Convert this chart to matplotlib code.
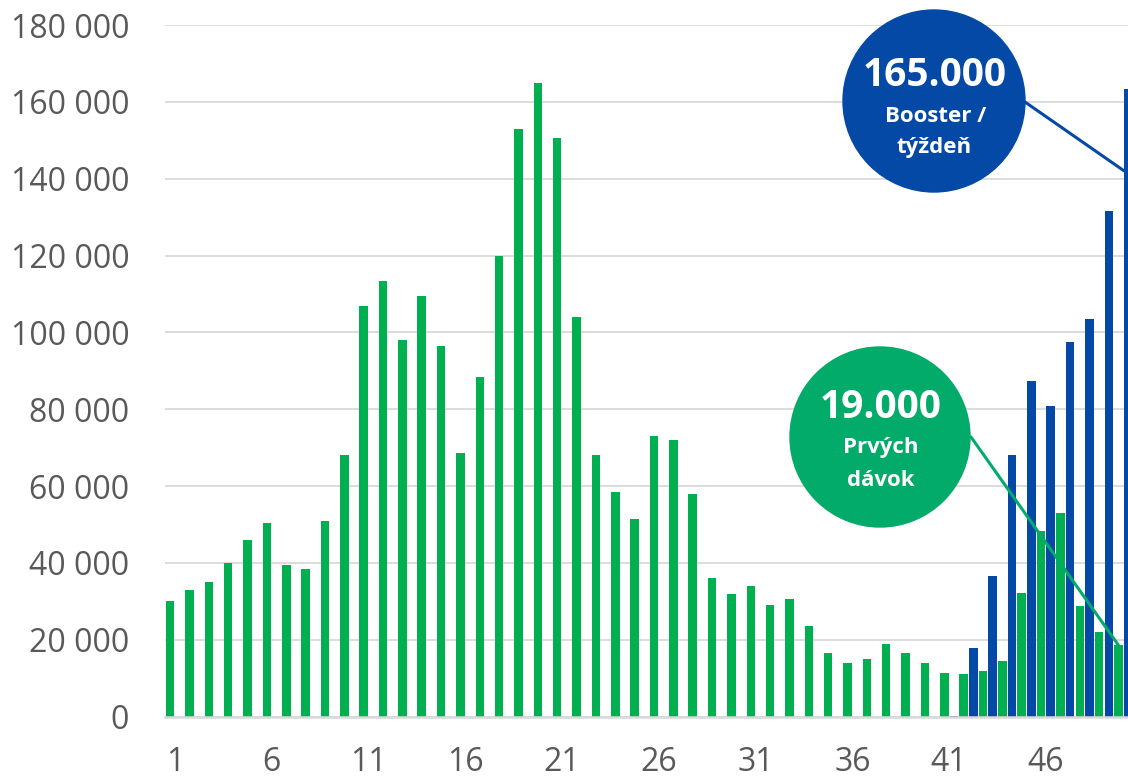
import matplotlib
matplotlib.use("Agg")
import matplotlib.pyplot as plt
from matplotlib.patches import Circle
from matplotlib.ticker import FuncFormatter, MultipleLocator
import numpy as np

weeks = list(range(1, 51))
first_doses = [30000, 33000, 35000, 40000, 46000, 50500, 39500, 38500, 51000, 68000,
               107000, 113500, 98000, 109500, 96500, 68500, 88500, 120000, 153000, 165000,
               150500, 104000, 68000, 58500, 51500, 73000, 72000, 58000, 36000, 32000,
               34000, 29000, 30500, 23500, 16500, 14000, 15000, 19000, 16500, 14000,
               11400, 11000, 12000, 14600, 32200, 48200, 53000, 28700, 22000, 18600]
booster = [0] * 40 + [300, 17900, 36500, 68000, 87400, 80900, 97400, 103600, 131500, 163300]
x_labels = [str(w) if (w - 1) % 5 == 0 else "" for w in weeks]

green = "#00B050"
blue = "#0449A6"
green_circle = "#03AB6A"
grid = "#D9D9D9"
txt = "#595959"
font = "Open Sans"

W, H = 1128, 780
fig = plt.figure(figsize=(W / 100, H / 100), dpi=100)
left_px, right_px, top_px, bottom_px = 165.3, 1133.0, 25.0, 716.7
ax = fig.add_axes([left_px / W, 1 - bottom_px / H, (right_px - left_px) / W, (bottom_px - top_px) / H])

x = np.array(weeks, dtype=float)
w = 0.44
ax.bar(x - 0.25, first_doses, width=w, color=green, zorder=3)
ax.bar(x + 0.25, booster, width=w, color=blue, zorder=3)

ax.set_xlim(0.5, 50.5)
ax.set_ylim(0, 180000)
ax.yaxis.set_major_locator(MultipleLocator(20000))
ax.yaxis.set_major_formatter(FuncFormatter(lambda v, p: f"{int(v):,}".replace(",", " ")))
ax.set_xticks(weeks)
ax.set_xticklabels(x_labels)
ax.grid(axis="y", color=grid, linewidth=1.3, zorder=0)
for s in ["top", "right", "left"]:
    ax.spines[s].set_visible(False)
ax.spines["bottom"].set_color(grid)
ax.spines["bottom"].set_linewidth(1.8)
ax.spines["bottom"].set_zorder(4)
ax.tick_params(axis="both", length=0, labelcolor=txt, labelsize=23)
ax.tick_params(axis="y", pad=26)
ax.tick_params(axis="x", pad=21)
for lab in ax.get_xticklabels() + ax.get_yticklabels():
    lab.set_fontfamily(font)

# annotation circles (pixel placement)
def px(xp, yp):
    return (xp / 100, (H - yp) / 100)

trans = fig.dpi_scale_trans
c1 = Circle(px(934, 101), 0.91, transform=trans, color=blue, zorder=10)
c2 = Circle(px(880, 437), 0.90, transform=trans, color=green_circle, zorder=10)
fig.patches.extend([c1, c2])

# connector lines from circle edge to bars
ax.annotate("", xy=(50 + 0.25 - w / 2, booster[-1] * 0.87), xycoords="data",
            xytext=px(1025, 102), textcoords=trans,
            arrowprops=dict(arrowstyle="-", color=blue, lw=2.2, shrinkA=0, shrinkB=0), zorder=9)
ax.annotate("", xy=(50 - 0.25, first_doses[-1]), xycoords="data",
            xytext=px(971, 437), textcoords=trans,
            arrowprops=dict(arrowstyle="-", color=green_circle, lw=2.2, shrinkA=0, shrinkB=0), zorder=9)

big, small = 28, 16
fig.text(*px(935, 76), "165.000", transform=trans, ha="center", va="center",
         fontsize=big, fontweight="bold", color="white", family=font, zorder=11)
fig.text(*px(936, 117), "Booster /", transform=trans, ha="center", va="center",
         fontsize=small, fontweight="bold", color="white", family=font, zorder=11)
fig.text(*px(934, 148), "týždeň", transform=trans, ha="center", va="center",
         fontsize=small, fontweight="bold", color="white", family=font, zorder=11)
fig.text(*px(881, 408), "19.000", transform=trans, ha="center", va="center",
         fontsize=big, fontweight="bold", color="white", family=font, zorder=11)
fig.text(*px(881, 448), "Prvých", transform=trans, ha="center", va="center",
         fontsize=small, fontweight="bold", color="white", family=font, zorder=11)
fig.text(*px(881, 480), "dávok", transform=trans, ha="center", va="center",
         fontsize=small, fontweight="bold", color="white", family=font, zorder=11)

fig.savefig("out.png", dpi=100)
